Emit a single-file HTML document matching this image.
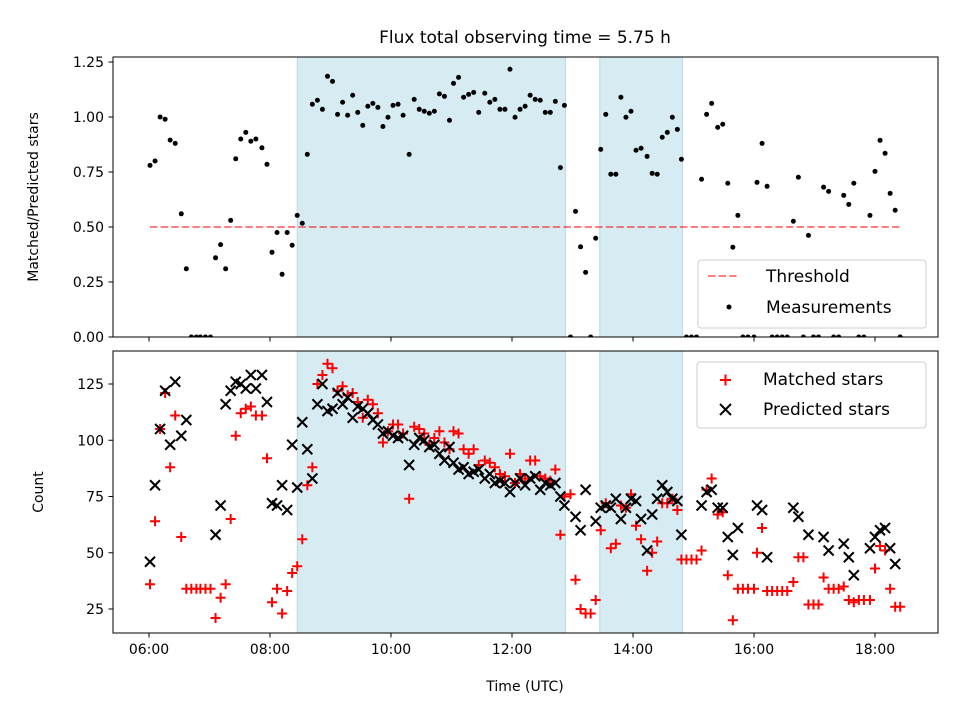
<!DOCTYPE html>
<html><head><meta charset="utf-8"><style>
html,body{margin:0;padding:0;background:#fff;}
svg{display:block;font-family:"DejaVu Sans","Liberation Sans",sans-serif;}
</style></head><body>
<svg id="chart" width="960" height="720" viewBox="0 0 960 720">
<defs>
<clipPath id="clipTop"><rect x="113" y="57" width="825" height="280"/></clipPath>
<clipPath id="clipBot"><rect x="113" y="351" width="825" height="282"/></clipPath>
</defs>
<text x="525" y="43" text-anchor="middle" font-size="17">Flux total observing time = 5.75 h</text>
<g id="topPanel"></g>
<g id="botPanel"></g>
<text transform="translate(38,197) rotate(-90)" text-anchor="middle" font-size="14">Matched/Predicted stars</text>
<text transform="translate(43,492) rotate(-90)" text-anchor="middle" font-size="14">Count</text>
<text x="525" y="691" text-anchor="middle" font-size="14">Time (UTC)</text>
</svg>
<script>
const times = [1,6,11,16,21,26,32,37,42,47,51,56,61,66,71,76,81,86,91,96,101,106,112,117,122,127,132,137,142,147,152,157,162,167,172,177,182,187,192,197,202,207,212,217,222,227,232,237,242,247,252,258,263,268,273,278,283,288,293,298,302,307,312,317,322,327,333,338,343,348,353,358,363,368,373,378,383,388,393,398,403,408,412,418,423,428,433,438,443,448,453,458,463,468,473,478,483,488,494,499,504,509,514,519,524,528,533,538,543,548,553,558,564,569,574,579,584,589,594,600,603,608,613,618,623,628,633,639,644,649,654,659,664,669,674,679,684,689,694,699,704,709,715,720,725,730,735,740,745];
const ratio = [.78,.80,1.00,.99,.895,.88,.56,.31,0,0,
0,0,0,.36,.42,.31,.53,.81,.90,.93,
.89,.90,.86,.785,.385,.475,.285,.475,.417,.553,
.517,.83,1.058,1.076,1.035,1.185,1.162,1.012,1.067,1.008,
1.099,1.021,.962,1.049,1.062,1.044,.957,.999,1.053,1.058,
1.008,.83,1.08,1.035,1.026,1.017,1.026,1.105,1.094,.985,
1.153,1.18,1.09,1.103,1.112,1.021,1.108,1.067,1.08,1.035,
1.035,1.217,.999,1.035,1.049,1.099,1.08,1.076,1.021,1.021,
1.071,.77,1.053,0,.571,.41,.294,0,.449,.853,
1.012,.74,.74,1.09,.999,1.026,.849,.858,.821,.744,
.74,.908,.93,.999,.944,.808,0,0,0,.717,
1.012,1.062,.953,.967,.699,.408,.553,0,0,0,
.703,.88,.685,0,0,0,0,.526,.726,0,
.462,0,0,.681,.662,0,0,.644,.603,.699,
0,0,.553,.753,.894,.835,.653,.576,0];
const predicted = [46,80,105,122,98,126,102,109,null,null,
null,null,null,58,71,116,122,126,125,123,
129,123,129,117,72,71,80,69,98,79,
108,96,83,116,125,113,114,121,116,119,
110,115,114,112,109,107,103,104,102,101,
102,89,98,101,100,97,98,94,91,97,
90,87,88,85,86,87,83,85,81,82,
81,77,81,83,80,83,84,78,81,80,
81,75,71,null,66,60,78,null,64,70,
71,70,74,65,70,74,73,65,51,67,
74,80,77,74,73,58,null,null,null,71,
77,78,70,70,57,49,61,null,null,null,
71,69,48,null,null,null,null,70,66,null,
58,null,null,57,51,null,null,54,48,40,
null,null,52,57,60,61,52,45,null];
const matched = [36,64,105,121,88,111,57,34,34,34,
34,34,34,21,30,36,65,102,112,114,
115,111,111,92,28,34,23,33,41,44,
56,80,88,125,129,134,132,122,124,120,
121,117,110,118,116,112,99,104,107,107,
103,74,106,105,103,98,101,104,99,96,
104,103,96,94,96,89,91,90,88,85,
84,94,81,85,83,91,91,84,83,82,
87,58,75,76,38,25,23,23,29,60,
72,52,54,71,70,76,62,56,42,50,
55,72,72,74,69,47,47,47,47,51,
78,83,67,68,40,20,34,34,34,34,
50,61,33,33,33,33,33,37,48,48,
27,27,27,39,34,34,34,35,29,28,
29,29,29,43,53,51,34,26,26];
const shadeStart = [147, 447];
const shadeEnd = [413, 529];
const threshold = 0.5;
const xTickMin = [0,120,240,360,480,600,720];
const xTickLabels = ["06:00","08:00","10:00","12:00","14:00","16:00","18:00"];
const topTicks = [0,0.25,0.5,0.75,1.0,1.25];
const topTickLabels = ["0.00","0.25","0.50","0.75","1.00","1.25"];
const botTicks = [25,50,75,100,125];
const botTickLabels = ["25","50","75","100","125"];

const NS = "http://www.w3.org/2000/svg";
function xs(m){ return 149 + m*60.5/60; }
function ysTop(v){ return 337 - 220*v; }
function ysBot(c){ return 609 - (c-25)*2.25; }
function mk(tag, attrs, parent){
  const e = document.createElementNS(NS, tag);
  for (const k in attrs) e.setAttribute(k, attrs[k]);
  parent.appendChild(e);
  return e;
}
const topG = document.getElementById('topPanel');
const botG = document.getElementById('botPanel');

function panel(g, y0, y1, clipId, name){
  for (let i=0;i<shadeStart.length;i++){
    const r = mk('rect',{x:xs(shadeStart[i]),y:y0,width:xs(shadeEnd[i])-xs(shadeStart[i]),height:y1-y0,fill:'rgba(173,216,230,0.5)',stroke:'rgba(150,200,215,0.6)','stroke-width':1},g);
    
    
  }
  const data = mk('g',{'clip-path':'url(#'+clipId+')'},g);
  
  
  return data;
}
function frame(g, y0, y1, name, ticks, labels, yfn, showXLabels){
  const f = mk('rect',{x:113,y:y0,width:825,height:y1-y0,fill:'none',stroke:'#000','stroke-width':1},g);
  
  
  for (let i=0;i<ticks.length;i++){
    const y = yfn(ticks[i]);
    mk('line',{x1:108.5,x2:113,y1:y,y2:y,stroke:'#000','stroke-width':1},g);
    const t = mk('text',{x:104,y:y+5,'text-anchor':'end','font-size':14},g);
    t.textContent = labels[i];
    
    
  }
  for (let i=0;i<xTickMin.length;i++){
    const x = xs(xTickMin[i]);
    mk('line',{x1:x,x2:x,y1:y1,y2:y1+4.5,stroke:'#000','stroke-width':1},g);
    if (showXLabels){
      const t = mk('text',{x:x,y:y1+21,'text-anchor':'middle','font-size':14},g);
      t.textContent = xTickLabels[i];
      
      
    }
  }
}

// top panel
const topData = panel(topG, 57, 337, 'clipTop', 'top');
const thr = mk('line',{x1:xs(times[0]),x2:xs(times[times.length-1]),y1:ysTop(threshold),y2:ysTop(threshold),stroke:'rgba(255,0,0,0.5)','stroke-width':2,'stroke-dasharray':'7.4,3.2'},topData);


for (let i=0;i<times.length;i++){
  const c = mk('circle',{cx:xs(times[i]),cy:ysTop(ratio[i]),r:2.5,fill:'#000'},topData);
  
  
}
frame(topG, 57, 337, 'top', topTicks, topTickLabels, ysTop, false);

// bottom panel
const botData = panel(botG, 351, 633, 'clipBot', 'bottom');
for (let i=0;i<times.length;i++){
  if (matched[i]===null) continue;
  const x = xs(times[i]), y = ysBot(matched[i]);
  const p = mk('path',{d:`M${x-5},${y}H${x+5}M${x},${y-5}V${y+5}`,stroke:'#ff0000','stroke-width':2,fill:'none'},botData);
  
  
}
for (let i=0;i<times.length;i++){
  if (predicted[i]===null) continue;
  const x = xs(times[i]), y = ysBot(predicted[i]);
  const p = mk('path',{d:`M${x-5},${y-5}L${x+5},${y+5}M${x-5},${y+5}L${x+5},${y-5}`,stroke:'#000','stroke-width':2,fill:'none'},botData);
  
  
}
frame(botG, 351, 633, 'bottom', botTicks, botTickLabels, ysBot, true);

// legends
const lg1 = mk('g',{},topG);


mk('rect',{x:698,y:260,width:228,height:68,rx:3,fill:'rgba(255,255,255,0.8)',stroke:'#ccc','stroke-width':1},lg1);
mk('line',{x1:708,x2:738,y1:276,y2:276,stroke:'rgba(255,0,0,0.5)','stroke-width':2,'stroke-dasharray':'7.4,3.2'},lg1);
mk('circle',{cx:729,cy:307,r:2.5,fill:'#000'},lg1);
const l1 = mk('text',{x:766,y:282,'font-size':17},lg1); l1.textContent='Threshold';


const l2 = mk('text',{x:766,y:313,'font-size':17},lg1); l2.textContent='Measurements';



const lg2 = mk('g',{},botG);


mk('rect',{x:697,y:362,width:229,height:66,rx:3,fill:'rgba(255,255,255,0.8)',stroke:'#ccc','stroke-width':1},lg2);
mk('path',{d:'M720,380H731M725.5,374.5V385.5',stroke:'#ff0000','stroke-width':2},lg2);
mk('path',{d:'M720,404L731,415M720,415L731,404',stroke:'#000','stroke-width':2},lg2);
const l3 = mk('text',{x:763,y:385,'font-size':17},lg2); l3.textContent='Matched stars';


const l4 = mk('text',{x:763,y:415,'font-size':17},lg2); l4.textContent='Predicted stars';


</script>
</body></html>
